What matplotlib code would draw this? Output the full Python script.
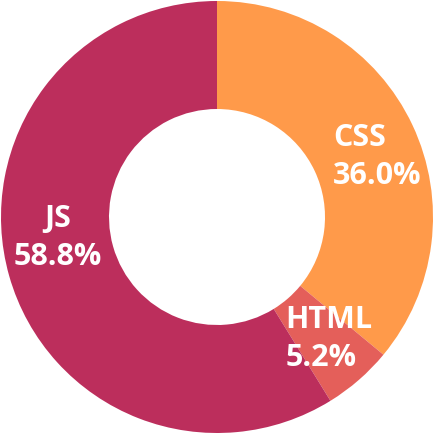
import numpy as np
import matplotlib
matplotlib.use("Agg")
import matplotlib.pyplot as plt

labels = ["CSS", "HTML", "JS"]
values = [36.0, 5.2, 58.8]
colors = ["#FF9A4A", "#E45F5A", "#BC2E5C"]
label_dx = [-0.142, -0.177, -0.014]
label_dy = [-0.041, 0.001, 0.107]
label_ha = ["left", "left", "center"]

fig = plt.figure(figsize=(4.34, 4.33), dpi=100)
ax = fig.add_axes([0, 0, 1, 1])
ax.pie(values, colors=colors, startangle=90, counterclock=False, radius=1.0,
       wedgeprops=dict(width=0.5, linewidth=0))
ax.set_xlim(-217/216, 217/216)
ax.set_ylim(-1.0, 217/216)
ax.set_aspect('equal')
ax.axis('off')

total = sum(values)
start = 90.0
r_lab = 0.75
for lab, v, dx, dy, ha in zip(labels, values, label_dx, label_dy, label_ha):
    span = v / total * 360
    mid = np.deg2rad(start - span / 2)
    start -= span
    x = r_lab * np.cos(mid) + dx
    y = r_lab * np.sin(mid) + dy
    ax.text(x, y, f"{lab}\n{v:.1f}%", ha=ha, va='center', multialignment=ha,
            color='white', fontsize=22, fontweight='bold', family='Open Sans',
            linespacing=1.32)

fig.savefig("out.png", dpi=100)
